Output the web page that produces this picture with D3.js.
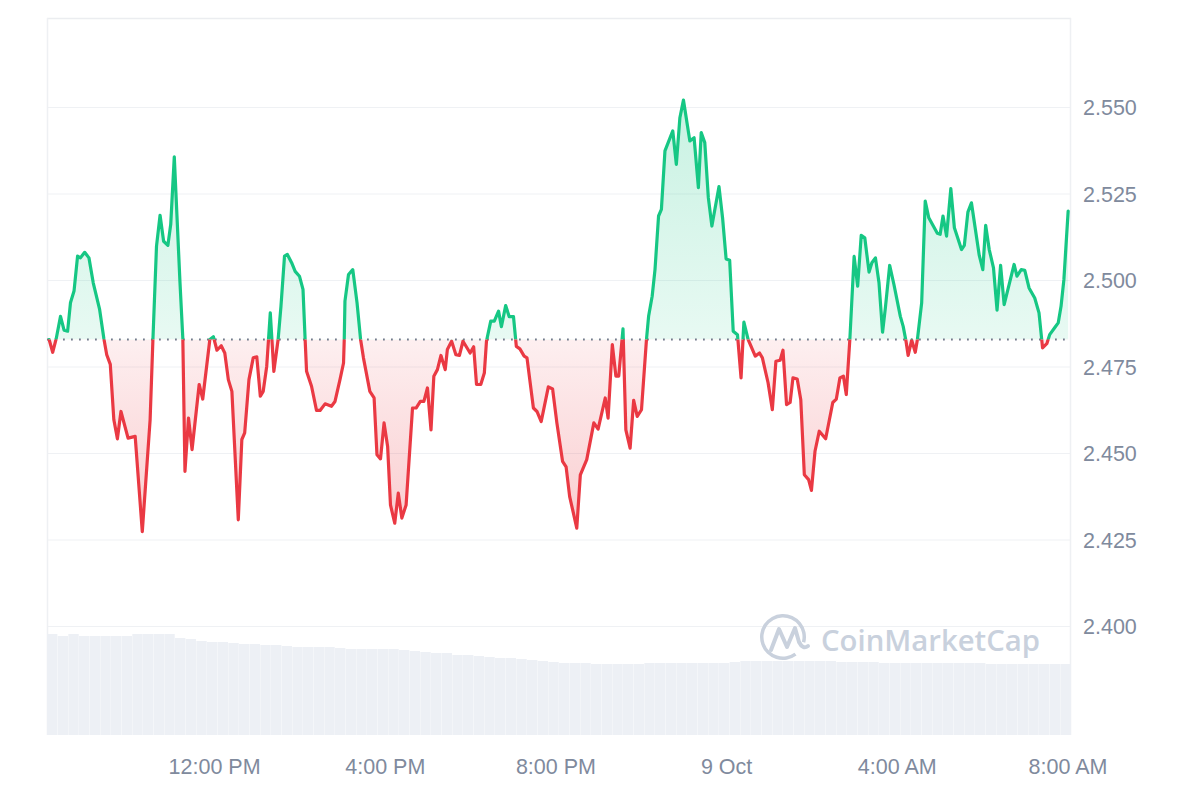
<!DOCTYPE html>
<html>
<head>
<meta charset="utf-8">
<script src="https://cdn.jsdelivr.net/npm/d3@7"></script>
<style>
  html, body { margin: 0; padding: 0; background: #ffffff; }
  svg { display: block; }
  text { font-family: "Liberation Sans", Arial, sans-serif; }
</style>
</head>
<body>
<svg id="chart" width="1200" height="800"></svg>
<script>
// ---------------- DATA ----------------
const startTime = new Date(2024, 9, 8, 8, 5);   // 8 Oct, 8:05 AM
const spanMinutes = 1440;

// minutes since start
const minutes = [
  3,8,13,19,24,29,33,38,43,47,
  53,59,65,74,80,84,89,94,99,104,
  114,124,134,145,149,154,159,164,170,174,
  179,187,191,194,199,204,214,219,229,234,
  239,245,250,255,260,269,274,278,284,290,
  295,300,304,309,314,319,325,329,334,338,
  344,349,355,360,363,365,372,379,384,391,
  400,405,412,417,418,419,424,430,436,441,
  445,454,460,464,469,474,479,483,489,494,
  499,505,514,519,525,530,535,540,544,549,
  554,560,563,569,575,580,585,595,600,604,
  610,615,618,624,629,635,639,645,650,656,
  660,665,671,675,684,689,695,705,711,717,
  725,730,735,745,750,759,769,775,785,789,
  795,800,804,810,814,820,825,830,836,843,
  846,851,855,860,864,869,880,885,890,895,
  904,910,916,920,925,930,935,945,950,955,
  960,965,971,976,980,986,996,1002,1006,1014,
  1020,1025,1031,1035,1040,1045,1049,1055,1060,1065,
  1071,1075,1080,1086,1095,1105,1110,1115,1120,1124,
  1129,1135,1140,1145,1150,1156,1160,1165,1170,1175,
  1179,1185,1191,1200,1204,1208,1211,1216,1221,1224,
  1230,1235,1240,1252,1256,1260,1265,1271,1276,1286,
  1290,1295,1300,1311,1316,1320,1325,1331,1336,1341,
  1346,1360,1364,1370,1375,1381,1389,1395,1400,1406,
  1410,1417,1422,1426,1430,1436
];

// price (USD)
const prices = [
  2.4828,2.4791,2.4831,2.4895,2.4855,2.4852,2.4934,2.4968,2.5069,2.5064,
  2.5080,2.5064,2.4992,2.4915,2.4830,2.4784,2.4756,2.4596,2.4541,2.4620,
  2.4543,2.4548,2.4273,2.4596,2.4831,2.5098,2.5187,2.5112,2.5100,2.5161,
  2.5356,2.4993,2.4831,2.4447,2.4601,2.4510,2.4698,2.4656,2.4828,2.4836,
  2.4797,2.4810,2.4789,2.4712,2.4678,2.4307,2.4539,2.4558,2.4712,2.4775,
  2.4778,2.4664,2.4678,2.4751,2.4905,2.4736,2.4828,2.4924,2.5069,2.5074,
  2.5050,2.5025,2.5011,2.4973,2.4828,2.4736,2.4693,2.4623,2.4623,2.4642,
  2.4635,2.4649,2.4712,2.4760,2.4828,2.4939,2.5016,2.5030,2.4934,2.4828,
  2.4775,2.4678,2.4659,2.4495,2.4483,2.4587,2.4519,2.4350,2.4297,2.4384,
  2.4312,2.4350,2.4630,2.4630,2.4649,2.4649,2.4688,2.4567,2.4722,2.4741,
  2.4782,2.4741,2.4799,2.4823,2.4784,2.4782,2.4823,2.4789,2.4807,2.4698,
  2.4698,2.4731,2.4823,2.4881,2.4881,2.4910,2.4865,2.4926,2.4894,2.4894,
  2.4808,2.4801,2.4780,2.4775,2.4630,2.4620,2.4591,2.4691,2.4685,2.4587,
  2.4476,2.4460,2.4374,2.4283,2.4437,2.4481,2.4587,2.4569,2.4659,2.4601,
  2.4813,2.4722,2.4722,2.4859,2.4567,2.4514,2.4652,2.4606,2.4625,2.4828,
  2.4895,2.4953,2.5030,2.5185,2.5204,2.5373,2.5431,2.5334,2.5469,2.5520,
  2.5402,2.5411,2.5267,2.5426,2.5397,2.5238,2.5156,2.5270,2.5180,2.5061,
  2.5057,2.4852,2.4842,2.4717,2.4878,2.4828,2.4780,2.4789,2.4775,2.4703,
  2.4625,2.4765,2.4768,2.4797,2.4640,2.4646,2.4717,2.4714,2.4654,2.4437,
  2.4423,2.4392,2.4505,2.4563,2.4541,2.4646,2.4656,2.4717,2.4722,2.4669,
  2.4828,2.5068,2.4982,2.5129,2.5122,2.5023,2.5050,2.5064,2.4992,2.4849,
  2.4920,2.5042,2.4987,2.4895,2.4866,2.4823,2.4782,2.4826,2.4791,2.4828,
  2.4934,2.5228,2.5180,2.5135,2.5132,2.5185,2.5127,2.5264,2.5151,2.5088,
  2.5100,2.5196,2.5223,2.5071,2.5030,2.5158,2.5088,2.5035,2.4913,2.5042,
  2.4929,2.5045,2.5011,2.5030,2.5028,2.4977,2.4948,2.4905,2.4804,2.4816,
  2.4842,2.4862,2.4876,2.4924,2.5001,2.5199
];

// 24h volume (relative units), one value per 15-minute bin
const volumeBinMinutes = 15;
const volumes = [
  101,99,101,99,99,99,99,99,101,101,101,101,97,96,94,93,
  93,92,91,91,90,90,89,88,88,88,88,87,86,86,86,86,
  86,85,84,83,82,82,80,80,79,78,77,77,76,75,74,73,
  72,72,72,71,71,71,71,71,72,72,72,72,72,72,72,72,
  73,74,74,74,74,74,74,74,74,74,73,73,73,73,72,72,
  72,72,72,72,72,72,72,72,71,71,71,71,71,71,71,71
];

const yTicks = [2.400, 2.425, 2.450, 2.475, 2.500, 2.525, 2.550];
const baselinePrice = prices[0];

// ---------------- CHART ----------------
(function () {
const svg = d3.select("#chart");
const pLeft = 47, pRight = 1071, pTop = 18, pBottom = 735;

const addMin = m => new Date(startTime.getTime() + m * 60000);
const x = d3.scaleTime().domain([startTime, addMin(spanMinutes)]).range([pLeft, pRight]);
const y = d3.scaleLinear().domain([2.400, 2.550]).range([626, 107]);
const yVol = d3.scaleLinear().domain([0, 120]).range([pBottom, pBottom - 120]);

const series = minutes.map((m, i) => ({ t: addMin(m), v: prices[i] }));
const baseY = y(baselinePrice);

const green = "#16c784", red = "#ea3943", grid = "#eff1f4", labelColor = "#808a9d";

const defs = svg.append("defs");
const gGrad = defs.append("linearGradient").attr("id", "gGrad")
  .attr("gradientUnits", "userSpaceOnUse").attr("x1", 0).attr("x2", 0)
  .attr("y1", y(2.555)).attr("y2", baseY);
gGrad.append("stop").attr("offset", "0%").attr("stop-color", green).attr("stop-opacity", 0.24);
gGrad.append("stop").attr("offset", "100%").attr("stop-color", green).attr("stop-opacity", 0.1);
const rGrad = defs.append("linearGradient").attr("id", "rGrad")
  .attr("gradientUnits", "userSpaceOnUse").attr("x1", 0).attr("x2", 0)
  .attr("y1", baseY).attr("y2", y(2.425));
rGrad.append("stop").attr("offset", "0%").attr("stop-color", red).attr("stop-opacity", 0.08);
rGrad.append("stop").attr("offset", "100%").attr("stop-color", red).attr("stop-opacity", 0.26);

defs.append("clipPath").attr("id", "clipAbove").append("rect")
  .attr("x", pLeft - 5).attr("y", 0).attr("width", pRight - pLeft + 10).attr("height", baseY);
defs.append("clipPath").attr("id", "clipBelow").append("rect")
  .attr("x", pLeft - 5).attr("y", baseY).attr("width", pRight - pLeft + 10).attr("height", 800 - baseY);

// Horizontal gridlines + right axis labels
const yAxis = d3.axisRight(y).tickValues(yTicks).tickFormat(d3.format(".3f"))
  .tickSize(-(pRight - pLeft)).tickPadding(12);
const yg = svg.append("g").attr("transform", `translate(${pRight},0)`).call(yAxis);
yg.select(".domain").remove();
yg.selectAll(".tick line").attr("stroke", grid).attr("stroke-width", 1);
yg.selectAll(".tick text").attr("fill", labelColor).style("font-size", "21.5px")
  .attr("dy", "0.36em");

// Borders
svg.append("line").attr("x1", pLeft).attr("x2", pRight).attr("y1", pTop + 0.5).attr("y2", pTop + 0.5)
  .attr("stroke", "#ebedf0").attr("stroke-width", 1.5);
svg.append("line").attr("x1", pLeft + 0.5).attr("x2", pLeft + 0.5).attr("y1", pTop).attr("y2", pBottom)
  .attr("stroke", "#eef0f3").attr("stroke-width", 1.5);
svg.append("line").attr("x1", pRight - 0.5).attr("x2", pRight - 0.5).attr("y1", pTop).attr("y2", pBottom)
  .attr("stroke", "#eef0f3").attr("stroke-width", 1.5);

// Volume bars
svg.append("g").selectAll("rect").data(volumes).join("rect")
  .attr("x", (d, i) => x(addMin(i * volumeBinMinutes)))
  .attr("width", (d, i) => x(addMin((i + 1) * volumeBinMinutes)) - x(addMin(i * volumeBinMinutes)) - 0.3)
  .attr("y", d => yVol(d))
  .attr("height", d => pBottom - yVol(d))
  .attr("fill", "#edf0f5");

// Watermark
const wmColor = "#c9d1dd";
svg.append("path").attr("transform", "translate(783,637)")
  .attr("d", d3.arc()({ innerRadius: 19.5, outerRadius: 23, startAngle: Math.PI * 0.8, endAngle: Math.PI * 2.58 }))
  .attr("fill", wmColor);
svg.append("path").attr("d", "M771,650 L779,629 L787,647 L795,628 L799,642 Q803,650 808,646")
  .attr("fill", "none").attr("stroke", wmColor)
  .attr("stroke-width", 4).attr("stroke-linejoin", "round").attr("stroke-linecap", "round");
svg.append("text").attr("x", 821).attr("y", 651).text("CoinMarketCap")
  .attr("fill", wmColor).style("font-family", "'Open Sans', Inter, sans-serif")
  .style("font-size", "29px").style("font-weight", 600)
  .attr("textLength", 219).attr("lengthAdjust", "spacingAndGlyphs");

// Area fills
const area = d3.area().x(d => x(d.t)).y0(baseY).y1(d => y(d.v));
svg.append("path").datum(series).attr("d", area).attr("fill", "url(#gGrad)").attr("clip-path", "url(#clipAbove)");
svg.append("path").datum(series).attr("d", area).attr("fill", "url(#rGrad)").attr("clip-path", "url(#clipBelow)");

// Baseline dotted
svg.append("line").attr("x1", pLeft).attr("x2", pRight).attr("y1", baseY).attr("y2", baseY)
  .attr("stroke", "#737b8c").attr("stroke-width", 1.8).attr("stroke-dasharray", "1.8,6.2");

// Price line
const line = d3.line().x(d => x(d.t)).y(d => y(d.v));
svg.append("path").datum(series).attr("d", line).attr("fill", "none").attr("stroke", green)
  .attr("stroke-width", 3.2).attr("stroke-linejoin", "round").attr("stroke-linecap", "round")
  .attr("clip-path", "url(#clipAbove)");
svg.append("path").datum(series).attr("d", line).attr("fill", "none").attr("stroke", red)
  .attr("stroke-width", 3.2).attr("stroke-linejoin", "round").attr("stroke-linecap", "round")
  .attr("clip-path", "url(#clipBelow)");

// X axis labels
const fmtTime = d3.timeFormat("%-I:%M %p"), fmtDay = d3.timeFormat("%-d %b");
const xTicks = d3.timeHour.every(4).range(startTime, addMin(spanMinutes));
const xAxis = d3.axisBottom(x).tickValues(xTicks)
  .tickFormat(d => (d.getHours() === 0 ? fmtDay(d) : fmtTime(d)))
  .tickSize(0).tickPadding(0);
const xg = svg.append("g").attr("transform", `translate(0,${pBottom})`).call(xAxis);
xg.select(".domain").remove();
xg.selectAll(".tick text").attr("fill", labelColor).style("font-size", "21.5px")
  .attr("dy", null).attr("y", 39);
})();
</script>
</body>
</html>
